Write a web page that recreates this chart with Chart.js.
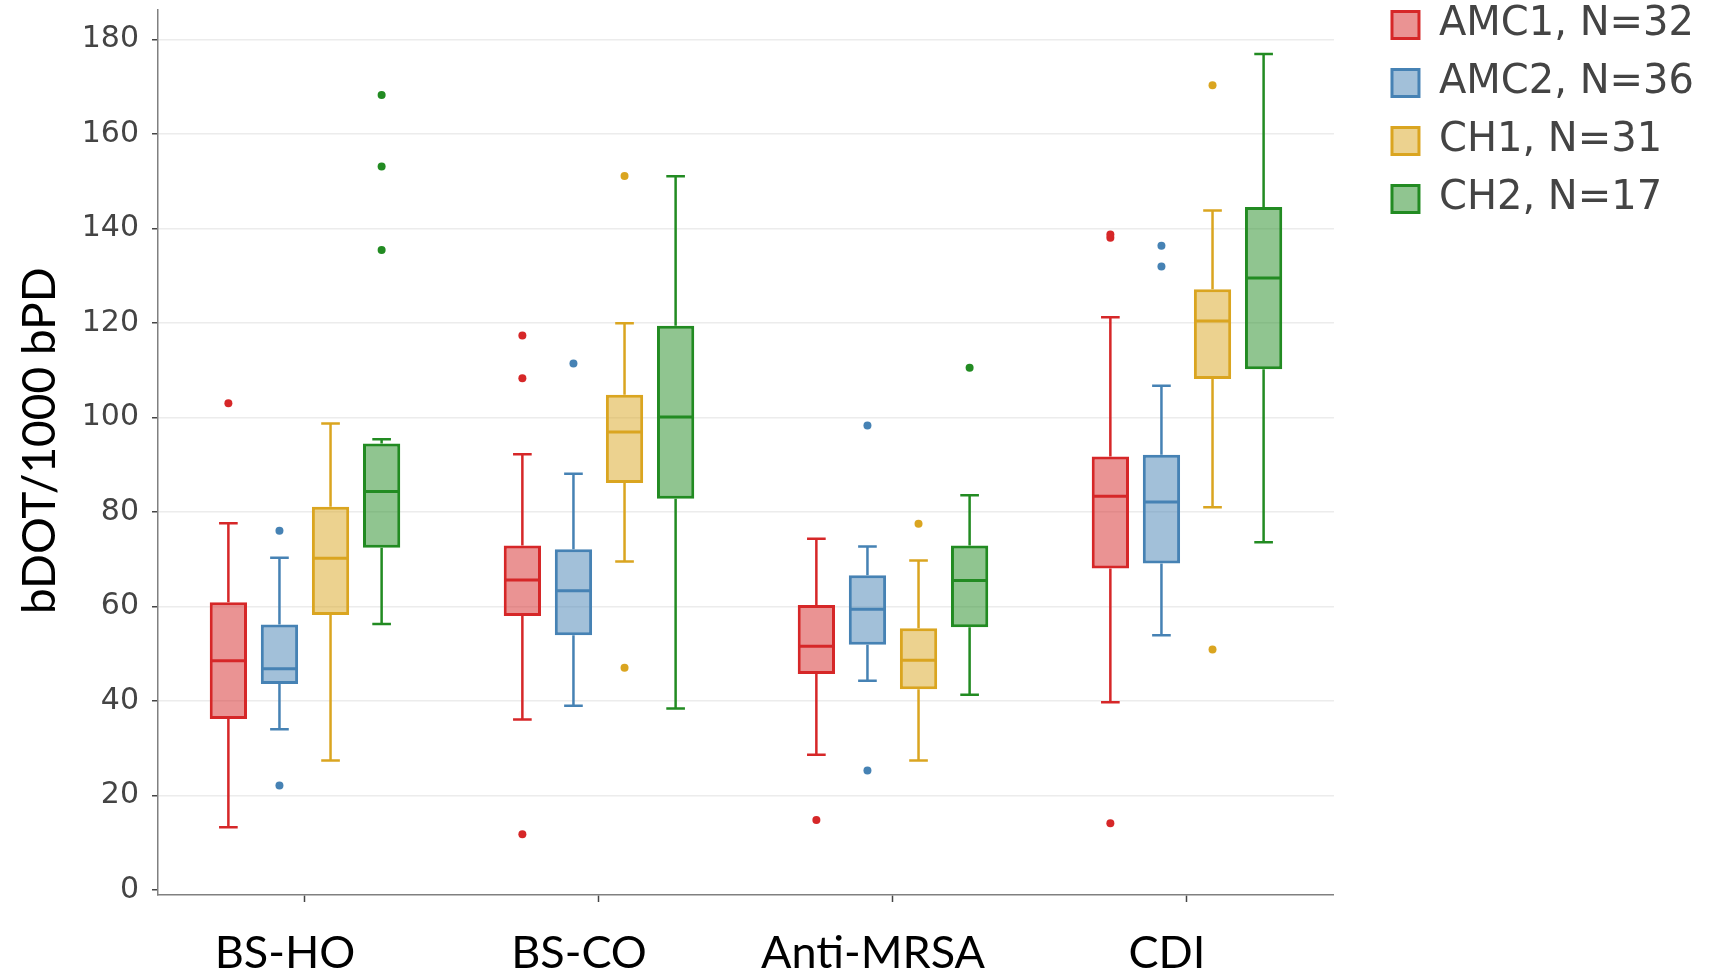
<!DOCTYPE html>
<html><head><meta charset="utf-8">
<script src="https://cdn.jsdelivr.net/npm/chart.js@4.4.1/dist/chart.umd.min.js"></script>
<style>html,body{margin:0;padding:0;background:#fff}#wrap{width:1714px;height:976px}</style>
</head><body><div id="wrap"><canvas id="c" width="1714" height="976"></canvas></div>
<script>
const categories = ['BS-HO', 'BS-CO', 'Anti-MRSA', 'CDI'];
const seriesNames = ['AMC1, N=32', 'AMC2, N=36', 'CH1, N=31', 'CH2, N=17'];
// per category: [lower whisker, Q1, median, Q3, upper whisker]
const amc1Stats = [[13.3, 36.2, 48.5, 60.9, 77.6], [36.1, 58.0, 65.6, 72.9, 92.2], [28.6, 45.7, 51.6, 60.3, 74.3], [39.7, 68.0, 83.3, 91.7, 121.2]];
const amc2Stats = [[34.0, 43.6, 46.8, 56.2, 70.3], [39.0, 53.9, 63.3, 72.1, 88.1], [44.3, 51.9, 59.4, 66.6, 72.7], [53.9, 69.1, 82.1, 92.1, 106.7]];
const ch1Stats = [[27.4, 58.2, 70.2, 81.1, 98.7], [69.5, 86.1, 96.9, 104.8, 119.9], [27.4, 42.5, 48.6, 55.4, 69.7], [81.0, 108.1, 120.4, 127.1, 143.8]];
const ch2Stats = [[56.3, 72.4, 84.3, 94.5, 95.4], [38.4, 82.8, 100.1, 119.4, 151.0], [41.3, 55.6, 65.5, 72.9, 83.5], [73.6, 110.2, 129.5, 144.5, 176.9]];
const amc1Outliers = [[103.0], [117.3, 108.3, 11.8], [14.8], [138.0, 138.7, 14.1]];
const amc2Outliers = [[76.0, 22.1], [111.4], [98.3, 25.3], [136.3, 131.9]];
const ch1Outliers = [[], [151.1, 47.0], [77.5], [170.3, 50.9]];
const ch2Outliers = [[168.2, 153.1, 135.4], [], [110.5], []];
const yTickValues = [0, 20, 40, 60, 80, 100, 120, 140, 160, 180];
const yAxisTitle = '  bDOT/1000 bPD';

const lineColors = ['#d62728', '#4682b4', '#daa520', '#228b22'];
const fillColors = ['rgba(214,39,40,0.5)', 'rgba(70,130,180,0.5)', 'rgba(218,165,32,0.5)', 'rgba(34,139,34,0.5)'];
const allStats = [amc1Stats, amc2Stats, ch1Stats, ch2Stats];
const allOutliers = [amc1Outliers, amc2Outliers, ch1Outliers, ch2Outliers];

const datasets = seriesNames.map((name, i) => ({
  label: name,
  data: allStats[i].map(s => [s[1], s[3]]),
  stats: allStats[i],
  outliers: allOutliers[i],
  backgroundColor: fillColors[i],
  borderColor: lineColors[i],
  borderWidth: 3,
  borderSkipped: false,
  categoryPercentage: 0.695,
  barPercentage: 0.73
}));

const boxPlotExtras = {
  id: 'boxPlotExtras',
  afterDatasetsDraw(chart) {
    const ctx = chart.ctx;
    const ys = chart.scales.y;
    chart.data.datasets.forEach((ds, di) => {
      const meta = chart.getDatasetMeta(di);
      meta.data.forEach((bar, j) => {
        const s = ds.stats[j];
        const x = bar.x, w = bar.width;
        const pLo = ys.getPixelForValue(s[0]);
        const pQ1 = ys.getPixelForValue(s[1]);
        const pMed = ys.getPixelForValue(s[2]);
        const pQ3 = ys.getPixelForValue(s[3]);
        const pHi = ys.getPixelForValue(s[4]);
        ctx.save();
        ctx.strokeStyle = ds.borderColor;
        ctx.lineWidth = 2.5;
        ctx.beginPath();
        ctx.moveTo(x, pQ3); ctx.lineTo(x, pHi);
        ctx.moveTo(x, pQ1); ctx.lineTo(x, pLo);
        ctx.moveTo(x - w / 4, pHi); ctx.lineTo(x + w / 4, pHi);
        ctx.moveTo(x - w / 4, pLo); ctx.lineTo(x + w / 4, pLo);
        ctx.stroke();
        ctx.lineWidth = 3;
        ctx.beginPath();
        ctx.moveTo(x - w / 2 + 1, pMed); ctx.lineTo(x + w / 2 - 1, pMed);
        ctx.stroke();
        ctx.fillStyle = ds.borderColor;
        ds.outliers[j].forEach(v => {
          ctx.beginPath();
          ctx.arc(x, ys.getPixelForValue(v), 4, 0, Math.PI * 2);
          ctx.fill();
        });
        ctx.restore();
      });
    });
  }
};

new Chart(document.getElementById('c'), {
  type: 'bar',
  data: { labels: categories, datasets: datasets },
  plugins: [boxPlotExtras],
  options: {
    responsive: false,
    animation: false,
    events: [],
    layout: { padding: { top: -13, right: 10, left: 0, bottom: 0 } },
    plugins: {
      tooltip: { enabled: false },
      legend: {
        position: 'right', align: 'start', maxWidth: 600,
        labels: { boxWidth: 27, boxHeight: 27, padding: 18, color: '#444', font: { family: 'DejaVu Sans', size: 40 } }
      }
    },
    scales: {
      x: {
        grid: { display: true, drawOnChartArea: false, drawTicks: true, offset: false, tickLength: 7, tickColor: '#444', tickWidth: 1.5 },
        border: { display: true, color: '#808080', width: 1.5 },
        ticks: { font: { family: 'Lato', size: 45 }, color: '#000', padding: 24, labelOffset: -20, maxRotation: 0, autoSkip: false },
        afterFit: s => { s.height = 81; s.paddingLeft = 0; s.paddingRight = 0; }
      },
      y: {
        min: -1.06, max: 186.2,
        afterBuildTicks: s => { s.ticks = yTickValues.map(v => ({ value: v })); },
        afterFit: s => { s.width = 158; s.paddingTop = 10; s.paddingBottom = 0; },
        grid: { color: c => (c.tick && c.tick.value === 0) ? 'rgba(0,0,0,0)' : '#ececec', lineWidth: 1.5, tickColor: '#444', tickLength: 6, tickWidth: 1.5 },
        border: { display: true, color: '#808080', width: 1.5 },
        ticks: { font: { family: 'DejaVu Sans', size: 30 }, color: '#444', padding: 13 },
        title: { display: true, text: yAxisTitle, color: '#000', font: { family: 'Lato', size: 46 }, padding: { top: 13, bottom: 0 } }
      },
      gap: {
        type: 'linear', position: 'right', display: true, min: 0, max: 1,
        grid: { display: false }, ticks: { display: false }, border: { display: false },
        afterFit: s => { s.width = 40; s.paddingTop = 0; s.paddingBottom = 0; }
      }
    }
  }
});
</script>
</body></html>
